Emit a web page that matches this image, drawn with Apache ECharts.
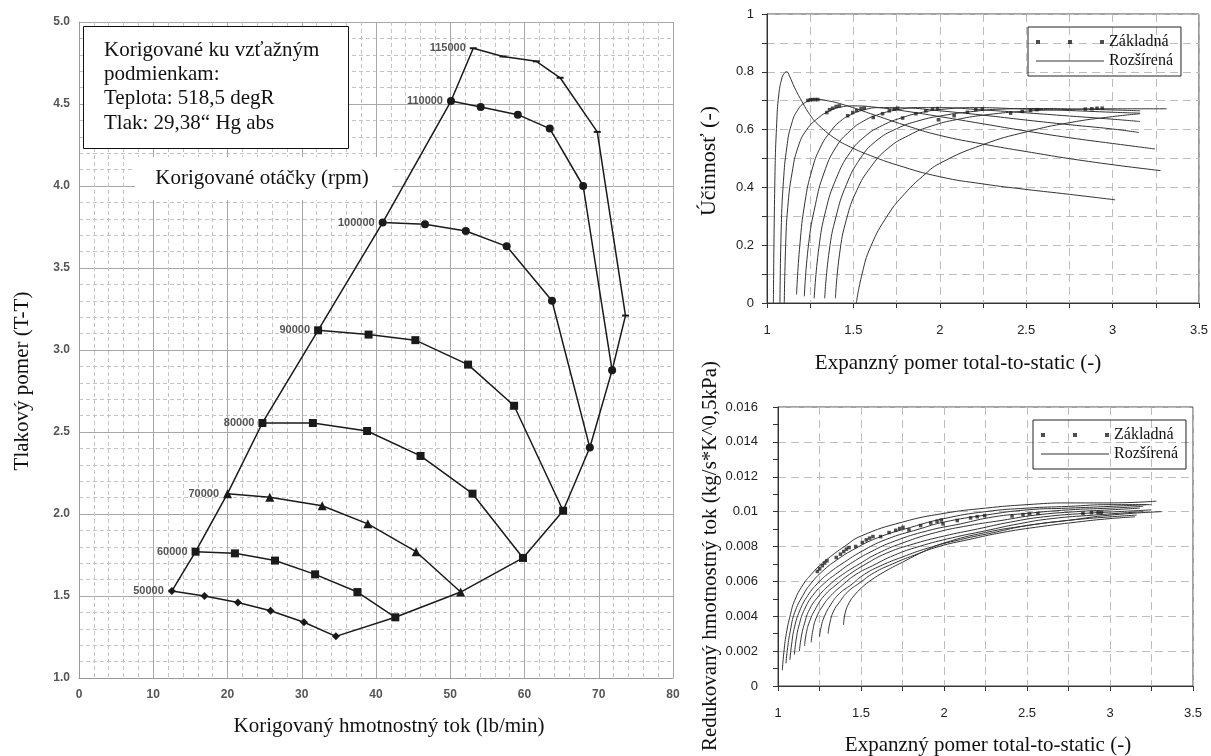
<!DOCTYPE html>
<html>
<head>
<meta charset="utf-8">
<script src="https://cdn.jsdelivr.net/npm/echarts@6.0.0/dist/echarts.min.js"></script>
<style>
  html, body { margin: 0; padding: 0; background: #fff; }
  #chart { width: 1211px; height: 756px; }
</style>
</head>
<body>
<div id="chart"></div>
<script>
// ---- mapa kompresora (vľavo) ----
const speedNames = ["50000", "60000", "70000", "80000", "90000", "100000", "110000", "115000"];
const rpm50000 = [[12.5, 1.53], [16.9, 1.5], [21.4, 1.46], [25.8, 1.41], [30.3, 1.34], [34.6, 1.254]];
const rpm60000 = [[15.7, 1.77], [21.0, 1.76], [26.4, 1.716], [31.8, 1.632], [37.5, 1.524], [42.6, 1.37]];
const rpm70000 = [[20.0, 2.124], [25.7, 2.102], [32.75, 2.05], [38.9, 1.94], [45.4, 1.77], [51.4, 1.524]];
const rpm80000 = [[24.7, 2.555], [31.5, 2.555], [38.8, 2.506], [46.0, 2.354], [53.0, 2.124], [59.8, 1.732]];
const rpm90000 = [[32.2, 3.12], [39.0, 3.094], [45.3, 3.06], [52.4, 2.911], [58.6, 2.66], [65.2, 2.02]];
const rpm100000 = [[40.9, 3.777], [46.6, 3.767], [52.1, 3.726], [57.6, 3.632], [63.7, 3.3], [68.8, 2.405]];
const rpm110000 = [[50.1, 4.518], [54.1, 4.482], [59.1, 4.435], [63.4, 4.35], [67.9, 4.0], [71.8, 2.876]];
const rpm115000 = [[53.1, 4.84], [57.1, 4.79], [61.6, 4.76], [64.8, 4.66], [69.8, 4.33], [73.6, 3.21], [71.8, 2.876]];
const speedLines = [rpm50000, rpm60000, rpm70000, rpm80000, rpm90000, rpm100000, rpm110000, rpm115000];

// ---- účinnosť (vpravo hore) ----
const effC1 = [[1.037, 0], [1.046, 0.44], [1.056, 0.62], [1.068, 0.72], [1.085, 0.775], [1.1, 0.795], [1.114, 0.8], [1.13, 0.785], [1.16, 0.745], [1.2, 0.7], [1.25, 0.65], [1.3, 0.615], [1.4, 0.567], [1.5, 0.535], [1.6, 0.51], [1.75, 0.478], [2.0, 0.437], [2.25, 0.412], [2.5, 0.393], [2.75, 0.376], [3.015, 0.357]];
const effC2 = [[1.075, 0], [1.082, 0.25], [1.095, 0.42], [1.115, 0.54], [1.14, 0.615], [1.18, 0.67], [1.23, 0.697], [1.28, 0.705], [1.35, 0.7], [1.45, 0.685], [1.6, 0.655], [1.8, 0.615], [2.0, 0.58], [2.25, 0.55], [2.5, 0.524], [2.86, 0.49], [3.278, 0.458]];
const effC3 = [[1.1, 0], [1.108, 0.2], [1.12, 0.33], [1.145, 0.45], [1.18, 0.54], [1.23, 0.6], [1.3, 0.642], [1.36, 0.664], [1.42, 0.677], [1.5, 0.682], [1.65, 0.676], [1.8, 0.664], [2.0, 0.645], [2.25, 0.62], [2.5, 0.595], [2.75, 0.572], [3.0, 0.552], [3.245, 0.533]];
const effC4 = [[1.171, 0.029], [1.19, 0.2], [1.22, 0.35], [1.26, 0.46], [1.31, 0.54], [1.37, 0.595], [1.42, 0.627], [1.48, 0.65], [1.56, 0.668], [1.65, 0.676], [1.8, 0.675], [2.0, 0.665], [2.25, 0.65], [2.5, 0.633], [2.75, 0.617], [3.0, 0.602], [3.153, 0.59]];
const effC5 = [[1.216, 0.023], [1.24, 0.2], [1.28, 0.34], [1.33, 0.45], [1.4, 0.54], [1.48, 0.595], [1.56, 0.63], [1.65, 0.653], [1.75, 0.668], [1.87, 0.676], [2.0, 0.676], [2.25, 0.668], [2.5, 0.658], [2.75, 0.647], [3.0, 0.636], [3.159, 0.628]];
const effC6 = [[1.273, 0.016], [1.3, 0.19], [1.34, 0.32], [1.4, 0.43], [1.48, 0.52], [1.57, 0.578], [1.67, 0.615], [1.78, 0.641], [1.9, 0.66], [2.03, 0.671], [2.2, 0.676], [2.5, 0.671], [2.75, 0.666], [3.0, 0.66], [3.159, 0.657]];
const effC7 = [[1.334, 0.016], [1.36, 0.18], [1.4, 0.3], [1.46, 0.41], [1.54, 0.5], [1.63, 0.56], [1.75, 0.603], [1.88, 0.631], [2.02, 0.649], [2.18, 0.662], [2.36, 0.671], [2.6, 0.673], [2.8, 0.671], [3.0, 0.668], [3.16, 0.665]];
const effC8 = [[1.396, 0.016], [1.42, 0.17], [1.46, 0.29], [1.52, 0.39], [1.6, 0.47], [1.7, 0.535], [1.82, 0.58], [1.95, 0.612], [2.1, 0.635], [2.28, 0.652], [2.48, 0.663], [2.7, 0.669], [3.0, 0.672], [3.313, 0.672]];
const effC9 = [[1.517, 0], [1.55, 0.1], [1.6, 0.195], [1.7, 0.305], [1.8, 0.38], [1.9, 0.438], [2.0, 0.483], [2.25, 0.548], [2.5, 0.592], [2.75, 0.624], [3.0, 0.645], [3.16, 0.655]];
const effCurves = [effC1, effC2, effC3, effC4, effC5, effC6, effC7, effC8, effC9];
const effBasic = [
  [1.237, 0.701], [1.251, 0.703], [1.265, 0.704], [1.28, 0.704], [1.294, 0.704],
  [1.346, 0.659], [1.362, 0.669], [1.38, 0.674], [1.4, 0.68], [1.419, 0.682],
  [1.467, 0.648], [1.496, 0.659], [1.519, 0.666], [1.544, 0.672], [1.563, 0.674],
  [1.615, 0.642], [1.669, 0.655], [1.708, 0.665], [1.737, 0.671], [1.756, 0.674],
  [1.785, 0.64], [1.862, 0.655], [1.919, 0.665], [1.958, 0.671], [1.987, 0.673],
  [1.992, 0.634], [2.083, 0.648], [2.16, 0.66], [2.208, 0.669], [2.246, 0.671],
  [2.41, 0.657], [2.477, 0.663], [2.525, 0.666], [2.563, 0.669],
  [2.842, 0.671], [2.88, 0.672], [2.91, 0.674], [2.94, 0.674]
];

// ---- redukovaný hmotnostný tok (vpravo dole) ----
const flowB1 = [[1.026, 0.0009], [1.035, 0.0019], [1.05, 0.003], [1.075, 0.0041], [1.1, 0.0049], [1.15, 0.0058], [1.2, 0.0064], [1.25, 0.0069], [1.3, 0.0073], [1.4, 0.008], [1.5, 0.0086], [1.75, 0.0094], [2.0, 0.0099], [2.25, 0.0102], [2.5, 0.0104], [2.75, 0.0105], [3.0, 0.0105], [3.28, 0.0106]];
const flowB2 = [[1.048, 0.0013], [1.058, 0.0022], [1.075, 0.0032], [1.1, 0.0042], [1.15, 0.0052], [1.2, 0.0059], [1.27, 0.0066], [1.35, 0.0072], [1.45, 0.0078], [1.6, 0.0085], [1.8, 0.0091], [2.0, 0.0096], [2.25, 0.01], [2.5, 0.0102], [2.75, 0.0103], [3.0, 0.0104], [3.25, 0.0104]];
const flowB3 = [[1.072, 0.0015], [1.082, 0.0024], [1.1, 0.0034], [1.13, 0.0043], [1.18, 0.0052], [1.24, 0.0059], [1.31, 0.0065], [1.4, 0.0071], [1.5, 0.0077], [1.65, 0.0084], [1.85, 0.009], [2.0, 0.0094], [2.25, 0.0098], [2.5, 0.0101], [2.75, 0.0102], [3.0, 0.0103], [3.22, 0.0104]];
const flowB4 = [[1.099, 0.0018], [1.11, 0.0027], [1.13, 0.0036], [1.16, 0.0044], [1.21, 0.0052], [1.28, 0.0059], [1.36, 0.0065], [1.45, 0.0071], [1.56, 0.0077], [1.7, 0.0083], [1.9, 0.0089], [2.1, 0.0093], [2.3, 0.0097], [2.5, 0.0099], [2.75, 0.0101], [3.0, 0.0102], [3.2, 0.0103]];
const flowB5 = [[1.129, 0.002], [1.14, 0.0028], [1.16, 0.0036], [1.19, 0.0044], [1.24, 0.0051], [1.31, 0.0058], [1.39, 0.0064], [1.49, 0.007], [1.6, 0.0076], [1.75, 0.0082], [1.95, 0.0088], [2.15, 0.0092], [2.35, 0.0095], [2.55, 0.0098], [2.8, 0.01], [3.0, 0.0101], [3.18, 0.0102]];
const flowB6 = [[1.16, 0.0023], [1.17, 0.003], [1.19, 0.0037], [1.23, 0.0045], [1.28, 0.0052], [1.35, 0.0058], [1.43, 0.0064], [1.53, 0.007], [1.65, 0.0076], [1.8, 0.0081], [2.0, 0.0086], [2.2, 0.009], [2.4, 0.0094], [2.6, 0.0097], [2.85, 0.0099], [3.05, 0.01], [3.25, 0.0101]];
const flowB7 = [[1.2, 0.0025], [1.21, 0.0032], [1.23, 0.0039], [1.27, 0.0046], [1.32, 0.0052], [1.39, 0.0058], [1.47, 0.0064], [1.57, 0.0069], [1.7, 0.0075], [1.85, 0.008], [2.05, 0.0085], [2.25, 0.0089], [2.45, 0.0093], [2.65, 0.0096], [2.9, 0.0098], [3.2, 0.01]];
const flowB8 = [[1.25, 0.0028], [1.26, 0.0034], [1.28, 0.004], [1.32, 0.0047], [1.37, 0.0053], [1.44, 0.0058], [1.52, 0.0064], [1.62, 0.0069], [1.75, 0.0074], [1.9, 0.0079], [2.1, 0.0084], [2.3, 0.0088], [2.5, 0.0092], [2.75, 0.0095], [3.0, 0.0098], [3.31, 0.01]];
const flowB9 = [[1.302, 0.003], [1.312, 0.0036], [1.335, 0.0043], [1.37, 0.0048], [1.42, 0.0054], [1.49, 0.0059], [1.58, 0.0065], [1.69, 0.007], [1.82, 0.0075], [1.97, 0.008], [2.15, 0.0084], [2.35, 0.0088], [2.55, 0.0091], [2.8, 0.0094], [3.0, 0.0096], [3.15, 0.0097]];
const flowB10 = [[1.395, 0.0035], [1.405, 0.0042], [1.43, 0.0048], [1.46, 0.0052], [1.5, 0.0056], [1.55, 0.006], [1.65, 0.0066], [1.75, 0.0071], [1.875, 0.0077], [2.0, 0.0082], [2.25, 0.0088], [2.5, 0.0092], [2.75, 0.0095], [3.0, 0.0097], [3.16, 0.0098]];
const flowCurves = [flowB1, flowB2, flowB3, flowB4, flowB5, flowB6, flowB7, flowB8, flowB9, flowB10];
const flowBasic = [
  [1.237, 0.00657], [1.251, 0.00672], [1.267, 0.0069], [1.281, 0.00705], [1.295, 0.00718],
  [1.351, 0.00737], [1.376, 0.00756], [1.396, 0.00771], [1.412, 0.00785], [1.428, 0.00794],
  [1.468, 0.008], [1.508, 0.00823], [1.532, 0.00838], [1.552, 0.00848], [1.572, 0.00857],
  [1.618, 0.00857], [1.669, 0.0088], [1.709, 0.00893], [1.733, 0.00903], [1.753, 0.0091],
  [1.789, 0.00895], [1.859, 0.0092], [1.92, 0.00935], [1.958, 0.00945], [1.984, 0.00952],
  [1.994, 0.0093], [2.08, 0.00949], [2.16, 0.00964], [2.2, 0.00971], [2.245, 0.00977],
  [2.41, 0.00975], [2.476, 0.00983], [2.516, 0.00987], [2.566, 0.0099],
  [2.837, 0.0099], [2.888, 0.00994], [2.928, 0.00994], [2.948, 0.00994]
];

const serif = "Liberation Serif";
const sans = "Liberation Sans";
const speedSymbols = ["diamond", "rect", "triangle", "rect", "rect", "circle", "circle", "rect"];
const speedSymbolSizes = [8, 8, 9, 8, 8, 8, 8, [7, 2]];

const myChart = echarts.init(document.getElementById("chart"));

// rýchlostné čiary
let series = speedNames.map((name, i) => ({
  name: name,
  type: "line",
  xAxisIndex: 0,
  yAxisIndex: 0,
  data: speedLines[i].map((p, j) => (j === 0 ? { value: p, label: { show: true } } : p)),
  symbol: speedSymbols[i],
  symbolSize: speedSymbolSizes[i],
  lineStyle: { color: "#1a1a1a", width: 1.5 },
  itemStyle: { color: "#1a1a1a" },
  label: {
    show: false,
    position: "left",
    distance: 4,
    formatter: name,
    fontFamily: sans,
    fontSize: 11,
    fontWeight: "bold",
    color: "#555",
  },
  z: 4,
}));

// hranica pumpovania a zahltenia
series.push({
  name: "surge",
  type: "line",
  xAxisIndex: 0,
  yAxisIndex: 0,
  data: speedLines.map((l) => l[0]),
  symbol: "none",
  lineStyle: { color: "#1a1a1a", width: 1.5 },
  z: 3,
});
series.push({
  name: "choke",
  type: "line",
  xAxisIndex: 0,
  yAxisIndex: 0,
  data: speedLines.map((l) => l[l.length - 1]),
  symbol: "none",
  lineStyle: { color: "#1a1a1a", width: 1.5 },
  z: 3,
});

effCurves.forEach((c) => {
  series.push({
    name: "Rozšírená",
    type: "line",
    xAxisIndex: 1,
    yAxisIndex: 1,
    data: c,
    smooth: 0.5,
    symbol: "none",
    lineStyle: { color: "#333", width: 1 },
    itemStyle: { color: "#333" },
  });
});
series.push({
  name: "Základná",
  type: "scatter",
  xAxisIndex: 1,
  yAxisIndex: 1,
  data: effBasic,
  symbol: "rect",
  symbolSize: 3.5,
  itemStyle: { color: "#222" },
  z: 5,
});

flowCurves.forEach((c) => {
  series.push({
    name: "Rozšírená",
    type: "line",
    xAxisIndex: 2,
    yAxisIndex: 2,
    data: c,
    smooth: 0.5,
    symbol: "none",
    lineStyle: { color: "#333", width: 1 },
    itemStyle: { color: "#333" },
  });
});
series.push({
  name: "Základná",
  type: "scatter",
  xAxisIndex: 2,
  yAxisIndex: 2,
  data: flowBasic,
  symbol: "rect",
  symbolSize: 3.5,
  itemStyle: { color: "#222" },
  z: 5,
});

// spoločné nastavenie osí pravých grafov
function rightAxis(extra) {
  return Object.assign(
    {
      type: "value",
      axisLine: { show: true, onZero: false, lineStyle: { color: "#333", width: 1 } },
      axisTick: { show: true, length: 5, lineStyle: { color: "#333" } },
      minorTick: { show: true, splitNumber: 2, length: 5, lineStyle: { color: "#333" } },
      splitLine: { show: true, lineStyle: { type: [8, 5], color: "#bdbdbd" } },
      minorSplitLine: { show: false },
      axisLabel: { fontFamily: sans, fontSize: 13, color: "#222" },
    },
    extra
  );
}

const legendBase = {
  orient: "vertical",
  selectedMode: false,
  borderColor: "#222",
  borderWidth: 1,
  padding: [7, 8, 7, 8],
  itemWidth: 68,
  itemHeight: 8,
  itemGap: 3,
  symbolKeepAspect: true,
  textStyle: { fontFamily: serif, fontSize: 16, color: "#111" },
  data: [
    { name: "Základná", icon: "path://M0,0h4v4h-4zM32,0h4v4h-4zM64,0h4v4h-4z" },
    { name: "Rozšírená", icon: "path://M0,0h68v1.2h-68z" },
  ],
};

const option = {
  animation: false,
  backgroundColor: "#fff",
  grid: [
    { left: 79, top: 22, width: 594, height: 656, show: false },
    { left: 767, top: 14, width: 434, height: 289, show: true, borderColor: "#444", borderWidth: 1 },
    { left: 778, top: 407, width: 415, height: 279, show: true, borderColor: "#444", borderWidth: 1 },
  ],
  xAxis: [
    {
      gridIndex: 0,
      type: "value",
      min: 0,
      max: 80,
      interval: 10,
      axisLine: { show: true, lineStyle: { color: "#999" } },
      axisTick: { show: false },
      minorTick: { show: false, splitNumber: 5 },
      splitLine: { show: true, lineStyle: { color: "#a8a8a8", width: 1 } },
      minorSplitLine: { show: true, lineStyle: { color: "#c4c4c4", type: [4, 3] } },
      axisLabel: { fontFamily: sans, fontSize: 12, fontWeight: "bold", color: "#555", margin: 11 },
    },
    rightAxis({
      gridIndex: 1,
      min: 1,
      max: 3.5,
      interval: 0.5,
      minorSplitLine: { show: true, lineStyle: { type: [8, 5], color: "#bdbdbd" } },
      axisLabel: { fontFamily: sans, fontSize: 13, color: "#222", margin: 21 },
    }),
    rightAxis({
      gridIndex: 2,
      min: 1,
      max: 3.5,
      interval: 0.5,
      minorSplitLine: { show: true, lineStyle: { type: [8, 5], color: "#bdbdbd" } },
      axisLabel: { fontFamily: sans, fontSize: 13, color: "#222", margin: 21 },
    }),
  ],
  yAxis: [
    {
      gridIndex: 0,
      type: "value",
      min: 1,
      max: 5,
      interval: 0.5,
      axisLine: { show: true, lineStyle: { color: "#999" } },
      axisTick: { show: false },
      minorTick: { show: false, splitNumber: 5 },
      splitLine: { show: true, lineStyle: { color: "#a8a8a8", width: 1 } },
      minorSplitLine: { show: true, lineStyle: { color: "#c4c4c4", type: [4, 3] } },
      axisLabel: {
        fontFamily: sans,
        fontSize: 12,
        fontWeight: "bold",
        color: "#555",
        margin: 9,
        formatter: (v) => v.toFixed(1),
      },
    },
    rightAxis({
      gridIndex: 1,
      min: 0,
      max: 1,
      interval: 0.2,
      minorSplitLine: { show: true, lineStyle: { type: [8, 5], color: "#bdbdbd" } },
      axisLabel: { fontFamily: sans, fontSize: 13, color: "#222", margin: 13 },
    }),
    rightAxis({
      gridIndex: 2,
      min: 0,
      max: 0.016,
      interval: 0.002,
      axisLabel: { fontFamily: sans, fontSize: 13, color: "#222", margin: 20 },
    }),
  ],
  legend: [
    Object.assign({}, legendBase, { left: 1028, top: 27 }),
    Object.assign({}, legendBase, { left: 1033, top: 420 }),
  ],
  graphic: [
    // poznámka o referenčných podmienkach
    {
      type: "rect",
      shape: { x: 83.5, y: 26.5, width: 265, height: 122 },
      style: { fill: "#fff", stroke: "#111", lineWidth: 1 },
      z: 10,
    },
    {
      type: "text",
      x: 104,
      y: 38,
      style: {
        text: "Korigované ku vzťažným\npodmienkam:\nTeplota: 518,5 degR\nTlak: 29,38“ Hg abs",
        font: '21px "Liberation Serif"',
        fill: "#111",
        lineHeight: 24.3,
        verticalAlign: "top",
      },
      z: 11,
    },
    {
      type: "rect",
      shape: { x: 135, y: 157, width: 257, height: 43 },
      style: { fill: "#fff" },
      z: 10,
    },
    {
      type: "text",
      x: 262,
      y: 178,
      style: {
        text: "Korigované otáčky (rpm)",
        font: '21px "Liberation Serif"',
        fill: "#111",
        align: "center",
        verticalAlign: "middle",
      },
      z: 11,
    },
    // názvy osí
    {
      type: "text",
      x: 389,
      y: 726,
      style: { text: "Korigovaný hmotnostný tok (lb/min)", font: '21px "Liberation Serif"', fill: "#111", align: "center", verticalAlign: "middle" },
    },
    {
      type: "text",
      x: 22,
      y: 381,
      rotation: Math.PI / 2,
      style: { text: "Tlakový pomer (T-T)", font: '21px "Liberation Serif"', fill: "#111", align: "center", verticalAlign: "middle" },
    },
    {
      type: "text",
      x: 958,
      y: 363,
      style: { text: "Expanzný pomer total-to-static (-)", font: '21px "Liberation Serif"', fill: "#111", align: "center", verticalAlign: "middle" },
    },
    {
      type: "text",
      x: 709,
      y: 161,
      rotation: Math.PI / 2,
      style: { text: "Účinnosť (-)", font: '22px "Liberation Serif"', fill: "#111", align: "center", verticalAlign: "middle" },
    },
    {
      type: "text",
      x: 988,
      y: 745,
      style: { text: "Expanzný pomer total-to-static (-)", font: '21px "Liberation Serif"', fill: "#111", align: "center", verticalAlign: "middle" },
    },
    {
      type: "text",
      x: 710,
      y: 556,
      rotation: Math.PI / 2,
      style: { text: "Redukovaný hmotnostný tok (kg/s*K^0,5kPa)", font: '21px "Liberation Serif"', fill: "#111", align: "center", verticalAlign: "middle" },
    },
  ],
  series: series,
};

option && myChart.setOption(option);
</script>
</body>
</html>
